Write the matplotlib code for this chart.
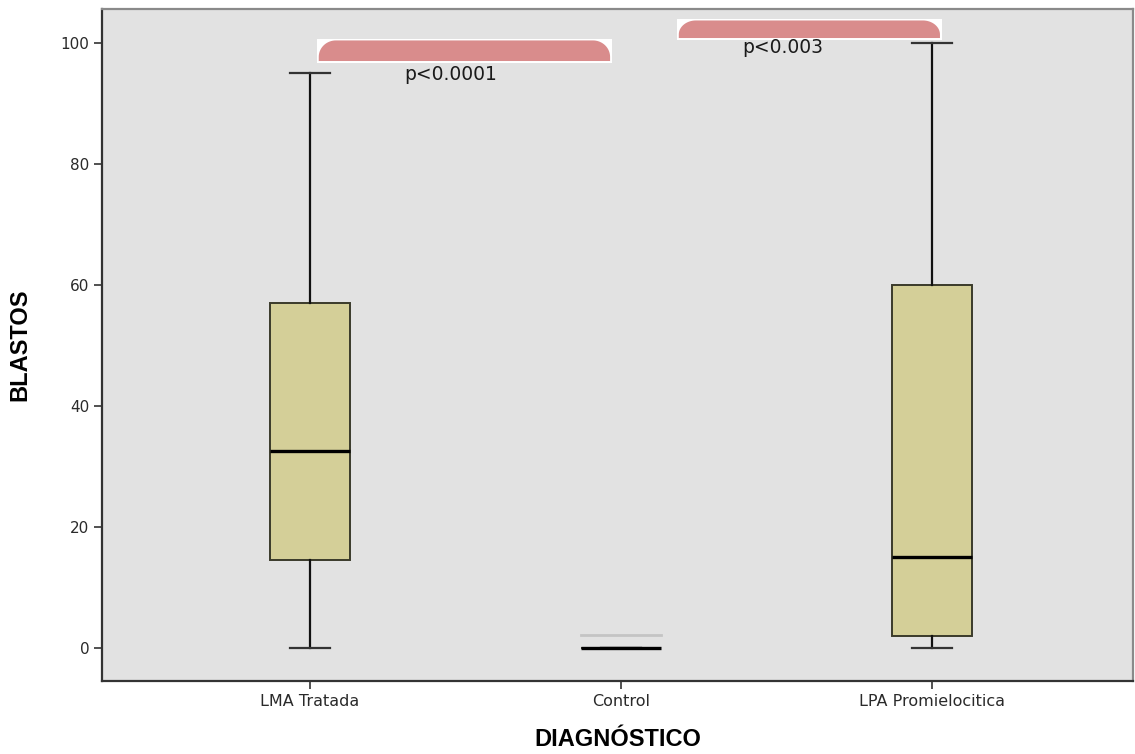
import matplotlib
matplotlib.use("Agg")
import matplotlib.pyplot as plt
from matplotlib.patches import Polygon, Rectangle
import numpy as np

# Box statistics for each diagnosis group
categories = ["LMA Tratada", "Control", "LPA Promielocitica"]
whisker_low = [0, 0, 0]
q1 = [14.5, 0, 2]
median = [32.5, 0, 15]
q3 = [57, 0, 60]
whisker_high = [95, 0, 100]
control_faint = 2.1

yticks = [0, 20, 40, 60, 80, 100]

# significance brackets: (x start, x end, y bottom, y top, label, label x, label y)
brackets = [
    (1.022, 1.971, 96.7, 100.7, "p<0.0001", 1.453, 94.8),
    (2.180, 3.032, 100.5, 104.0, "p<0.003", 2.521, 99.2),
]

BG = "#e2e2e2"
BOX = "#d4cf98"
RED = "#d98c8c"

fig = plt.figure(figsize=(11.35, 7.54), dpi=100)
ax = fig.add_axes([0.0899, 0.0968, 0.9081, 0.8913])
ax.set_facecolor(BG)

positions = [1, 2, 3]
stats = []
for i, name in enumerate(categories):
    stats.append(dict(label=name, whislo=whisker_low[i], q1=q1[i], med=median[i],
                      q3=q3[i], whishi=whisker_high[i], fliers=[]))

ax.bxp(stats, positions=positions, widths=0.257, patch_artist=True,
       showfliers=False,
       boxprops=dict(facecolor=BOX, edgecolor="#3a3a2a", linewidth=1.4),
       medianprops=dict(color="black", linewidth=2.4),
       whiskerprops=dict(color="#111111", linewidth=1.6),
       capprops=dict(color="#333333", linewidth=1.6),
       capwidths=0.128)

# faint upper line of the collapsed Control box
ax.plot([2 - 0.1285, 2 + 0.1285], [control_faint, control_faint],
        color="#c4c4c4", linewidth=2.0, zorder=3)

ax.set_xlim(0.331, 3.646)
ax.set_ylim(-5.45, 105.6)
ax.set_yticks(yticks)
ax.set_xticks(positions)
ax.set_xticklabels(categories)

for lab in ax.get_yticklabels():
    lab.set_fontfamily("DejaVu Sans")
    lab.set_fontsize(11)
    lab.set_color("#2a2a2a")
for lab in ax.get_xticklabels():
    lab.set_fontfamily("DejaVu Sans")
    lab.set_fontsize(11.5)
    lab.set_color("#2a2a2a")

ax.tick_params(direction="out", length=6, width=1.2, color="#333333", pad=3)

for side in ["left", "bottom"]:
    ax.spines[side].set_color("#333333")
    ax.spines[side].set_linewidth(1.6)
for side in ["top", "right"]:
    ax.spines[side].set_color("#8a8a8a")
    ax.spines[side].set_linewidth(1.6)

ax.set_xlabel("DIAGNÓSTICO", fontfamily="Liberation Sans", fontweight="bold",
              fontsize=17, labelpad=14)
ax.set_ylabel("BLASTOS", fontfamily="Liberation Sans", fontweight="bold",
              fontsize=17, labelpad=21)


def rounded_top(x0, x1, y0, y1, rx, ry, n=24):
    """Outline of a bar with rounded upper corners."""
    t = np.linspace(np.pi, np.pi / 2, n)
    left = np.column_stack([x0 + rx + rx * np.cos(t), y1 - ry + ry * np.sin(t)])
    t2 = np.linspace(np.pi / 2, 0, n)
    right = np.column_stack([x1 - rx + rx * np.cos(t2), y1 - ry + ry * np.sin(t2)])
    pts = np.vstack([[x0, y0], left, right, [x1, y0]])
    return pts


for x0, x1, y0, y1, label, lx, ly in brackets:
    ax.add_patch(Rectangle((x0, y0), x1 - x0, y1 - y0, facecolor="white",
                           edgecolor="none", zorder=4))
    pad_x = 0.006
    pad_y = 0.3
    h = (y1 - y0) - 2 * pad_y
    pts = rounded_top(x0 + pad_x, x1 - pad_x, y0 + pad_y, y1 - pad_y,
                      rx=0.055, ry=h * 0.8)
    ax.add_patch(Polygon(pts, closed=True, facecolor=RED, edgecolor="none",
                         zorder=5))
    ax.text(lx, ly, label, ha="center", va="center",
            fontsize=13.5, fontfamily="DejaVu Sans", color="#1a1a1a", zorder=6)

fig.savefig("out.png", dpi=100, facecolor="white")
